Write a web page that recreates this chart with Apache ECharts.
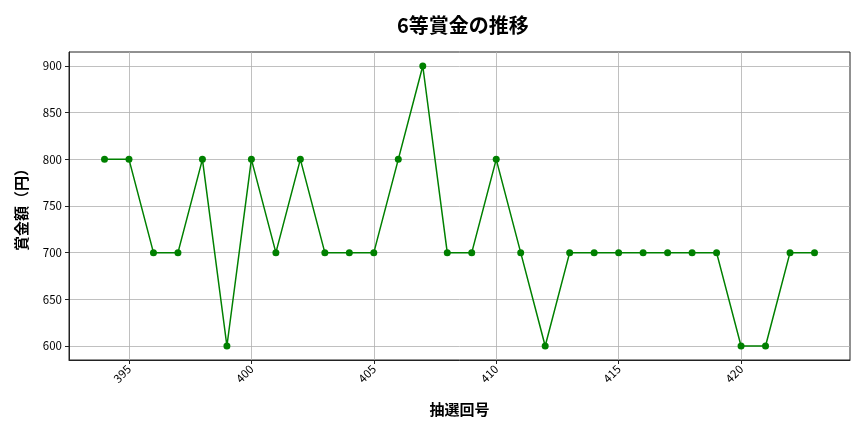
<!DOCTYPE html>
<html><head><meta charset="utf-8">
<script src="https://cdn.jsdelivr.net/npm/echarts@6/dist/echarts.min.js"></script>
<style>html,body{margin:0;padding:0;background:#fff}#c{width:864px;height:432px}</style>
</head><body><div id="c"></div>
<script>
const draws = [394,395,396,397,398,399,400,401,402,403,404,405,406,407,408,409,410,411,412,413,414,415,416,417,418,419,420,421,422,423];
const prizes = [800,800,700,700,800,600,800,700,800,700,700,700,800,900,700,700,800,700,600,700,700,700,700,700,700,700,600,600,700,700];
const xTicks = [395,400,405,410,415,420];
const yTicks = [600,650,700,750,800,850,900];

const FONT = '"Noto Sans CJK JP", "Noto Sans", sans-serif';
const chart = echarts.init(document.getElementById('c'), null, {renderer:'canvas'});
chart.setOption({
  animation:false,
  backgroundColor:'#fff',
  title:{text:'6等賞金の推移',left:392,top:10,textStyle:{fontFamily:FONT,fontSize:20,fontWeight:'bold',color:'#000'}},
  grid:{left:69,right:14,top:52,bottom:72,show:true,borderColor:'#222',borderWidth:1,backgroundColor:'transparent'},
  xAxis:{type:'value',min:392.55,max:424.45,
    name:'抽選回号',nameLocation:'middle',nameGap:42,
    nameTextStyle:{fontFamily:FONT,fontSize:15,fontWeight:'bold',color:'#000'},
    axisLine:{show:true,lineStyle:{color:'#222',width:1}},
    axisTick:{show:true,length:4,lineStyle:{color:'#222'},customValues:xTicks},
    axisLabel:{customValues:xTicks,rotate:45,margin:7,fontFamily:FONT,fontSize:11.5,color:'#000'},
    splitLine:{show:true,lineStyle:{color:'#b0b0b0',width:0.8}}
  },
  yAxis:{type:'value',min:585,max:915,
    name:'賞金額（円）',nameLocation:'middle',nameGap:40,nameRotate:90,
    nameTextStyle:{fontFamily:FONT,fontSize:15,fontWeight:'bold',color:'#000'},
    axisLine:{show:true,lineStyle:{color:'#222',width:1}},
    axisTick:{show:true,length:4,lineStyle:{color:'#222'},customValues:yTicks},
    axisLabel:{customValues:yTicks,margin:7,fontFamily:FONT,fontSize:11.5,color:'#000'},
    splitLine:{show:true,lineStyle:{color:'#b0b0b0',width:0.8}}
  },
  series:[{type:'line',data:draws.map((d,i)=>[d,prizes[i]]),
    symbol:'circle',symbolSize:7,
    lineStyle:{color:'#008000',width:1.5},
    itemStyle:{color:'#008000'}
  }]
});
</script></body></html>
